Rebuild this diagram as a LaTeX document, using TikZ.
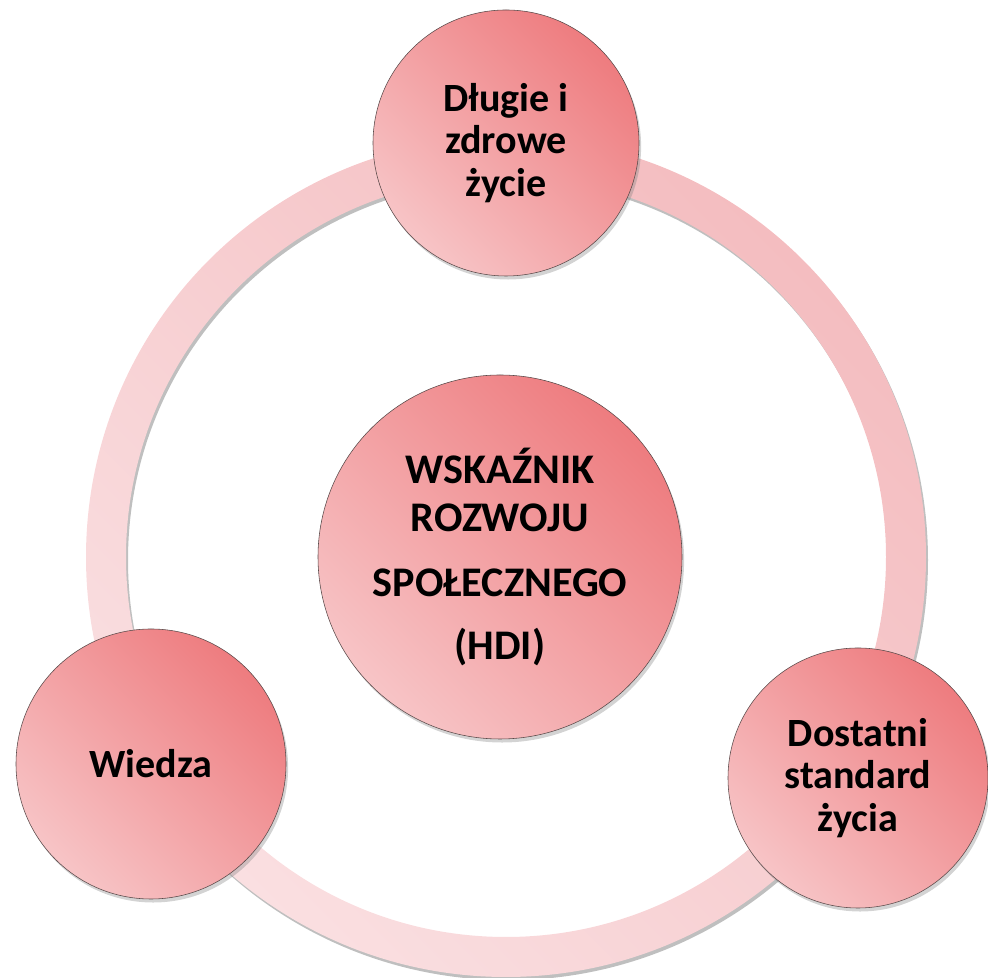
\documentclass[tikz,border=0pt]{standalone}
\usepackage{fontspec}
\setmainfont{Carlito}
\usetikzlibrary{shadows}
\definecolor{hdiLight}{HTML}{F7C4C6}
\definecolor{hdiDark}{HTML}{EE7C7F}
\definecolor{ringLight}{HTML}{FADFE1}
\definecolor{ringDark}{HTML}{F4BDC0}
\definecolor{rimGray}{HTML}{5A4A4A}

\begin{document}
\begin{tikzpicture}[
                bubble style/.style={
                    circle, inner sep=0pt, align=center, draw=rimGray, thin,
                    top color=hdiDark, bottom color=hdiLight, shading angle=-45,
                    drop shadow={shadow xshift=1.5pt, shadow yshift=-2.5pt, opacity=0.35}
            },
                hub style/.style={bubble style, font=\bfseries\fontsize{30}{34}\selectfont},
                leaf style/.style={bubble style, font=\bfseries\fontsize{28.5}{30.5}\selectfont}
            ]

            \useasboundingbox (0, 0) rectangle (24.7, 24.45);
            % the ring behind the circles
            \fill[black!25, even odd rule] (12.70, 10.445) circle (10.5) circle (9.5);
            \shade[even odd rule, top color=ringDark, bottom color=ringLight, shading angle=-45]
                (12.65, 10.525) circle (10.5) circle (9.5);

            \node[hub style, minimum size=9.1cm] (hdi) at (12.5, 10.525)
                {WSKAŹNIK\\ROZWOJU\\[0.4em]SPOŁECZNEGO\\[0.35em](HDI)};
            \node[leaf style, minimum size=6.65cm] (zycie) at (12.65, 20.875) {Długie i\\zdrowe\\życie};
            \node[leaf style, minimum size=6.75cm] (wiedza) at (3.775, 5.35) {Wiedza};
            \node[leaf style, minimum size=6.5cm] (standard) at (21.45, 5.0) {Dostatni\\standard\\życia};
        \end{tikzpicture}
\end{document}
